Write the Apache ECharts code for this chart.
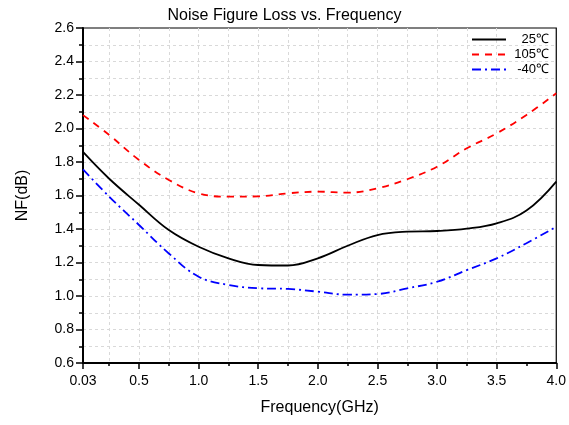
<!DOCTYPE html>
<html>
<head>
<meta charset="utf-8">
<script src="https://cdn.jsdelivr.net/npm/echarts@6/dist/echarts.min.js"></script>
<style>
  html, body { margin: 0; padding: 0; background: #fff; }
  #nf { width: 569px; height: 425px; }
</style>
</head>
<body>
<div id="nf"></div>
<script>
// frequency points (GHz)
var freq = [0.03, 0.25, 0.5, 0.75, 1.0, 1.25, 1.5, 1.75, 2.0, 2.25, 2.5, 2.75, 3.0, 3.25, 3.5, 3.75, 4.0];
var nf25 = [1.86, 1.70, 1.545, 1.394, 1.294, 1.225, 1.185, 1.182, 1.225, 1.300, 1.364, 1.384, 1.388, 1.402, 1.434, 1.51, 1.683];
var nf105 = [2.08, 1.961, 1.812, 1.693, 1.613, 1.593, 1.595, 1.613, 1.623, 1.617, 1.643, 1.697, 1.772, 1.882, 1.971, 2.081, 2.21];
var nfm40 = [1.756, 1.593, 1.424, 1.254, 1.115, 1.066, 1.046, 1.042, 1.026, 1.008, 1.012, 1.046, 1.085, 1.155, 1.225, 1.315, 1.414];
var xMajor = [0.03, 0.5, 1.0, 1.5, 2.0, 2.5, 3.0, 3.5, 4.0];
var xMinor = [0.25, 0.75, 1.25, 1.75, 2.25, 2.75, 3.25, 3.75];
var seriesNames = ['25\u2103', '105\u2103', '-40\u2103'];

function pairs(ys) {
  return freq.map(function (f, i) { return [f, ys[i]]; });
}

function nfchart() {
  var chartDom = document.getElementById('nf');
  var myChart = echarts.init(chartDom);
  var font = 'Liberation Sans, Arial, sans-serif';
  var gridLine = { show: true, showMaxLine: false, lineStyle: { color: '#d9d9d9', type: [3, 3], width: 1 } };

  option = {
    animation: false,
    textStyle: { fontFamily: font },
    title: {
      text: 'Noise Figure Loss vs. Frequency',
      left: 'center',
      top: 3,
      textStyle: { fontSize: 16, fontWeight: 'normal', color: '#000', fontFamily: font }
    },
    legend: {
      orient: 'vertical',
      left: 466,
      top: 28,
      itemWidth: 34,
      itemHeight: 10,
      itemGap: 2,
      itemStyle: { opacity: 0 },
      formatter: '{t|{name}}',
      textStyle: {
        fontSize: 13, color: '#000', fontFamily: font,
        rich: { t: { width: 38, align: 'right', fontSize: 13, color: '#000' } }
      },
      data: seriesNames
    },
    grid: {
      left: 83, right: 12, top: 28, bottom: 62,
      show: true, borderColor: '#000', borderWidth: 1.2
    },
    xAxis: [
      {
        type: 'value',
        min: 0.03, max: 4.0,
        name: 'Frequency(GHz)',
        nameLocation: 'middle',
        nameGap: 37,
        nameTextStyle: { fontSize: 16, color: '#000' },
        axisLine: { onZero: false, lineStyle: { color: '#000', width: 2 } },
        axisTick: { customValues: xMajor, length: 6, lineStyle: { color: '#000', width: 1.5 } },
        axisLabel: {
          customValues: xMajor, fontSize: 14, color: '#000', margin: 11,
          formatter: function (v) { return v === 0.03 ? '0.03' : v.toFixed(1); }
        },
        splitLine: gridLine
      },
      {
        type: 'value',
        min: 0.03, max: 4.0,
        position: 'bottom',
        axisLine: { show: false },
        axisTick: { customValues: xMinor, length: 3, lineStyle: { color: '#000', width: 1.5 } },
        axisLabel: { show: false, customValues: xMinor },
        splitLine: gridLine
      }
    ],
    yAxis: {
      type: 'value',
      min: 0.6, max: 2.6, interval: 0.2,
      name: 'NF(dB)',
      nameLocation: 'middle',
      nameGap: 52,
      nameTextStyle: { fontSize: 16, color: '#000' },
      axisLine: { show: true, onZero: false, lineStyle: { color: '#000', width: 2 } },
      axisTick: { show: true, length: 7, lineStyle: { color: '#000', width: 1.5 } },
      minorTick: { show: true, splitNumber: 2, length: 4, lineStyle: { color: '#000', width: 1.5 } },
      axisLabel: { fontSize: 14, color: '#000', margin: 9, formatter: function (v) { return v.toFixed(1); } },
      splitLine: gridLine,
      minorSplitLine: { show: true, lineStyle: { color: '#d9d9d9', type: [3, 3], width: 1 } }
    },
    series: [
      {
        name: seriesNames[0], type: 'line', smooth: 0.4, symbol: 'none',
        data: pairs(nf25),
        lineStyle: { color: '#000', width: 1.8 }, itemStyle: { color: '#000' }
      },
      {
        name: seriesNames[1], type: 'line', smooth: 0.4, symbol: 'none',
        data: pairs(nf105),
        lineStyle: { color: '#ff0000', width: 1.8, type: [7, 6] }, itemStyle: { color: '#ff0000' }
      },
      {
        name: seriesNames[2], type: 'line', smooth: 0.4, symbol: 'none',
        data: pairs(nfm40),
        lineStyle: { color: '#0000ff', width: 1.8, type: [9, 4, 2, 4] }, itemStyle: { color: '#0000ff' }
      }
    ]
  };

  option && myChart.setOption(option);
}

window.onload = function (e) {
  nfchart();
}
</script>
</body>
</html>
